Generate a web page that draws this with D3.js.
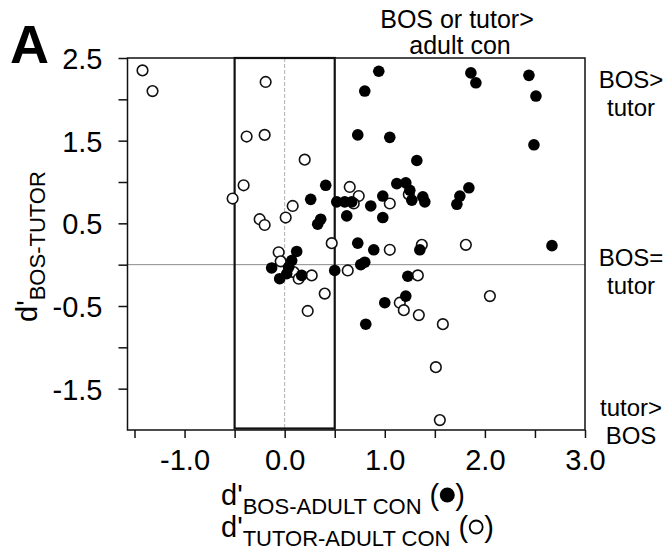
<!DOCTYPE html>
<html>
<head>
<meta charset="utf-8">
<script src="https://cdn.jsdelivr.net/npm/d3@7"></script>
<style>
  body { margin: 0; background: #fff; }
  svg { display: block; }
  text { font-family: "Liberation Sans", Arial, Helvetica, sans-serif; fill: #000; }
</style>
</head>
<body>
<script>
// Filled circles: d' BOS vs adult conspecific (x) against d' BOS vs tutor (y)
const bosAdultX = [0.94, 0.80, 1.86, 1.91, 2.44, 2.51, 0.73, 1.05, 2.49, 1.32,
                   0.41, 0.26, 0.36, 0.33, 0.52, 0.60, 0.67, 0.62, 1.12, 1.21,
                   1.25, 1.27, 1.38, 1.40, 1.84, 1.75, 1.72, 0.98, 0.86, 0.98,
                   0.73, 0.89, 1.35, 2.67, 0.76, 0.80, 0.50, 1.23, 1.21, 1.00,
                   0.81, 0.12, 0.07, -0.13, 0.04, 0.02, -0.05, 0.17];
const bosTutorFilled = [2.34, 2.10, 2.32, 2.20, 2.29, 2.04, 1.57, 1.54, 1.45, 1.26,
                        0.96, 0.79, 0.55, 0.49, 0.76, 0.76, 0.76, 0.59, 0.98, 0.99,
                        0.90, 0.78, 0.82, 0.76, 0.93, 0.83, 0.73, 0.83, 0.71, 0.57,
                        0.26, 0.18, 0.18, 0.23, 0.00, 0.03, -0.07, -0.14, -0.38, -0.46,
                        -0.72, 0.16, 0.05, -0.04, -0.03, -0.11, -0.17, -0.13];

// Open circles: d' tutor vs adult conspecific (x) against d' BOS vs tutor (y)
const tutorAdultX = [-1.42, -1.32, -0.19, -0.38, -0.20, 0.20, -0.41, -0.52, 0.08, 0.01,
                     -0.25, -0.20, 0.65, 0.74, 0.69, 1.05, 0.47, 1.05, 1.37, 1.81,
                     0.63, 1.33, 1.15, 1.19, 1.34, 1.58, 2.05, 1.51, 1.55, -0.06,
                     -0.04, 0.09, 0.14, 0.27, 0.40, 0.23, 1.24];
const bosTutorOpen = [2.35, 2.10, 2.21, 1.55, 1.57, 1.27, 0.96, 0.80, 0.71, 0.57,
                      0.55, 0.48, 0.94, 0.83, 0.74, 0.74, 0.26, 0.18, 0.24, 0.24,
                      -0.07, -0.13, -0.46, -0.55, -0.61, -0.72, -0.38, -1.24, -1.88, 0.15,
                      0.04, -0.09, -0.17, -0.13, -0.35, -0.56, 0.85];

const xTicks = [-1.5, -1.0, -0.5, 0.0, 0.5, 1.0, 1.5, 2.0, 2.5, 3.0];
const xTickLabels = ["-1.0", "0.0", "1.0", "2.0", "3.0"];
const yTicks = [-1.5, -1.0, -0.5, 0.0, 0.5, 1.0, 1.5, 2.0, 2.5];
const yTickLabels = ["-1.5", "-0.5", "0.5", "1.5", "2.5"];

// Band of "no preference" relative to adult conspecific song
const neutralBand = [-0.5, 0.5];

const W = 669, H = 552;
const svg = d3.select("body").append("svg").attr("width", W).attr("height", H);

const x = d3.scaleLinear().domain([-1.57, 3.0]).range([127.5, 585]);
const y = d3.scaleLinear().domain([-2.0, 2.5]).range([430, 58]);

const fmt = d => d.toFixed(1);

// Reference lines at zero
svg.append("line")
  .attr("x1", x(-1.57)).attr("x2", x(3.0))
  .attr("y1", y(0)).attr("y2", y(0))
  .attr("stroke", "#8a8a8a").attr("stroke-width", 1);
svg.append("line")
  .attr("x1", x(0)).attr("x2", x(0))
  .attr("y1", y(2.5)).attr("y2", y(-2.0))
  .attr("stroke", "#b0b0b0").attr("stroke-width", 1)
  .attr("stroke-dasharray", "4,2");

// Plot frame
svg.append("rect")
  .attr("x", x(-1.57)).attr("y", y(2.5))
  .attr("width", x(3.0) - x(-1.57)).attr("height", y(-2.0) - y(2.5))
  .attr("fill", "none").attr("stroke", "#111").attr("stroke-width", 1.5);

// Neutral band
svg.append("rect")
  .attr("x", x(neutralBand[0])).attr("y", y(2.5))
  .attr("width", x(neutralBand[1]) - x(neutralBand[0]))
  .attr("height", y(-2.0) - y(2.5) - 1.5)
  .attr("fill", "none").attr("stroke", "#111").attr("stroke-width", 2.2);

// Axes
const xAxis = svg.append("g")
  .attr("transform", `translate(0,${y(-2.0)})`)
  .call(d3.axisBottom(x).tickValues(xTicks).tickSize(8)
    .tickFormat(d => xTickLabels.includes(fmt(d)) ? fmt(d) : ""));
xAxis.select(".domain").remove();
xAxis.selectAll(".tick line").attr("stroke", "#111").attr("stroke-width", 1.5);
xAxis.selectAll(".tick text")
  .attr("y", 40).attr("dy", null)
  .style("font-size", "29px").style("font-family", "\"Liberation Sans\", Arial, sans-serif")
  .attr("fill", "#000");

const yAxis = svg.append("g")
  .attr("transform", `translate(${x(-1.57)},0)`)
  .call(d3.axisLeft(y).tickValues(yTicks).tickSize(9).tickPadding(16)
    .tickFormat(d => yTickLabels.includes(fmt(d)) ? fmt(d) : ""));
yAxis.select(".domain").remove();
yAxis.selectAll(".tick line").attr("stroke", "#111").attr("stroke-width", 1.5);
yAxis.selectAll(".tick text")
  .attr("dy", "0.36em")
  .style("font-size", "29px").style("font-family", "\"Liberation Sans\", Arial, sans-serif")
  .attr("fill", "#000");

// Points
const openPts = tutorAdultX.map((v, i) => ({ x: v, y: bosTutorOpen[i] }));
const filledPts = bosAdultX.map((v, i) => ({ x: v, y: bosTutorFilled[i] }));

svg.append("g").selectAll("circle").data(openPts).join("circle")
  .attr("cx", d => x(d.x)).attr("cy", d => y(d.y)).attr("r", 5.3)
  .attr("fill", "#fff").attr("stroke", "#111").attr("stroke-width", 1.6);

svg.append("g").selectAll("circle").data(filledPts).join("circle")
  .attr("cx", d => x(d.x)).attr("cy", d => y(d.y)).attr("r", 5.8)
  .attr("fill", "#000");

// Panel letter
svg.append("text").attr("x", 10).attr("y", 63)
  .style("font-size", "54px").style("font-weight", "bold").text("A");

// Quadrant annotations
const ann = svg.append("g").style("font-size", "25px").attr("text-anchor", "middle");
ann.append("text").attr("x", 457).attr("y", 28).text("BOS or tutor>");
ann.append("text").attr("x", 460).attr("y", 54).text("adult con");
const side = svg.append("g").style("font-size", "24px").attr("text-anchor", "middle");
side.append("text").attr("x", 631).attr("y", 88).text("BOS>");
side.append("text").attr("x", 631).attr("y", 116).text("tutor");
side.append("text").attr("x", 631).attr("y", 266).text("BOS=");
side.append("text").attr("x", 631).attr("y", 294).text("tutor");
side.append("text").attr("x", 631).attr("y", 416).text("tutor>");
side.append("text").attr("x", 631).attr("y", 444).text("BOS");

// Y axis title
const yTitle = svg.append("text")
  .attr("transform", "translate(37,322) rotate(-90)")
  .style("font-size", "29px");
yTitle.append("tspan").text("d'");
yTitle.append("tspan").attr("dy", 8).style("font-size", "22px").text("BOS-TUTOR");

// X axis title, two lines with marker keys
function xTitleLine(baseY, sub, filled) {
  const t = svg.append("text").attr("x", 221).attr("y", baseY).style("font-size", "29px");
  t.append("tspan").text("d'");
  t.append("tspan").attr("dy", 9).style("font-size", "22px").text(sub);
  t.append("tspan").attr("dy", -9).text(" (");
  const len = t.node().getComputedTextLength();
  const cx = 221 + len + 8;
  t.append("tspan").attr("dx", 16).text(")");
  const c = svg.append("circle").attr("cx", cx).attr("cy", baseY - 10);
  if (filled) c.attr("r", 7.5).attr("fill", "#000");
  else c.attr("r", 6.5).attr("fill", "none").attr("stroke", "#000").attr("stroke-width", 1.8);
}
xTitleLine(505, "BOS-ADULT CON", true);
xTitleLine(537, "TUTOR-ADULT CON", false);
</script>
</body>
</html>
